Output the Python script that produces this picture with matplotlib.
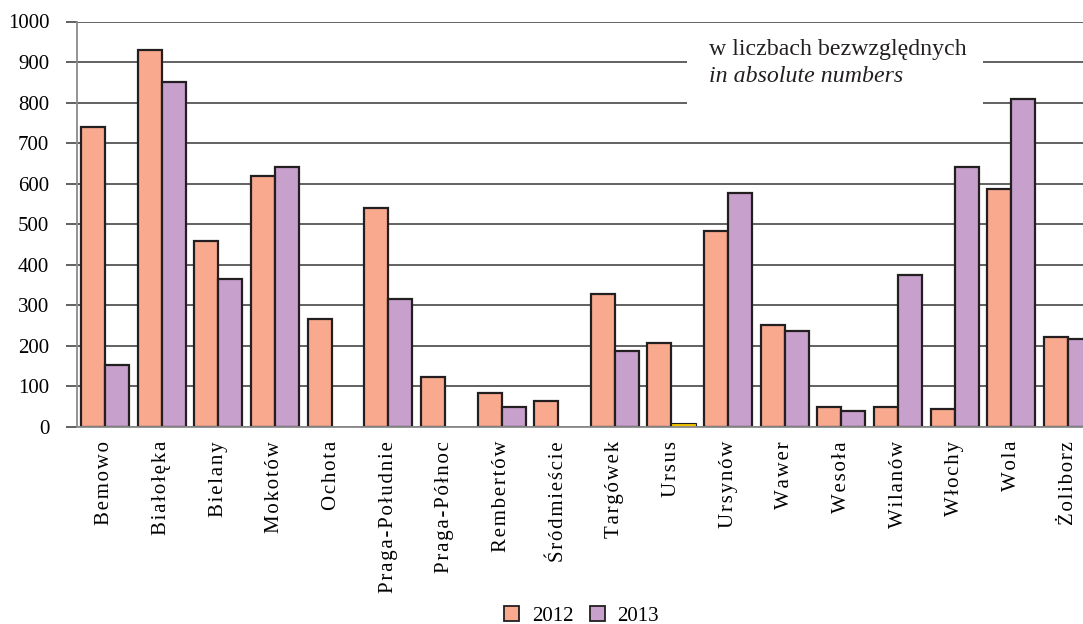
import numpy as np
import matplotlib
matplotlib.use("Agg")
import matplotlib.pyplot as plt
from matplotlib.patches import Rectangle, Patch

plt.rcParams['font.family'] = ['Liberation Serif', 'DejaVu Serif']

# districts of Warsaw
districts = ['Bemowo', 'Białołęka', 'Bielany', 'Mokotów', 'Ochota', 'Praga-Południe',
             'Praga-Północ', 'Rembertów', 'Śródmieście', 'Targówek', 'Ursus', 'Ursynów',
             'Wawer', 'Wesoła', 'Wilanów', 'Włochy', 'Wola', 'Żoliborz']
v2012 = [740, 930, 458, 620, 266, 541, 123, 83, 64, 329, 207, 483, 252, 49, 49, 44, 586, 221]
v2013 = [153, 852, 365, 640, np.nan, 315, np.nan, 49, np.nan, 188, 10, 577, 236, 39, 374, 640, 808, 216]
years = ['2012', '2013']

c2012 = '#F9AA8E'
c2013 = '#C8A0CC'
c_hl = '#F2C200'
edge = '#231F20'

fig = plt.figure(figsize=(10.83, 6.24), dpi=100)
ax = fig.add_axes([77 / 1083, 1 - 427 / 624, 1 - 77 / 1083, (427 - 21.5) / 624])

x = np.arange(len(districts))
w = 0.424
cols2013 = [c_hl if d == 'Ursus' else c2013 for d in districts]
ax.bar(x - w / 2, v2012, w, color=c2012, edgecolor=edge, linewidth=1.6, zorder=2)
bars = ax.bar(x + w / 2, v2013, w, color=cols2013, edgecolor=edge, linewidth=1.6, zorder=2)
bars[districts.index('Ursus')].set_linewidth(0.8)

ax.set_xlim(-0.494, 17.264)
ax.set_ylim(0, 1000)
ax.set_yticks(np.arange(0, 1001, 100))
ax.set_axisbelow(True)
ax.yaxis.grid(True, color='#555555', linewidth=1.3)
ax.tick_params(axis='y', length=8, width=1.3, color='#555555', pad=12, labelsize=15)
ax.tick_params(axis='x', length=0, pad=10)
ax.set_xticks(x)
# slight letter spacing as in the original
spaced = ['\u200a'.join(d) for d in districts]
ax.set_xticklabels(spaced, rotation=90, fontsize=15, va='top', ha='center')

for s in ['top', 'right']:
    ax.spines[s].set_visible(False)
for s in ['left', 'bottom']:
    ax.spines[s].set_color('#8a8a8a')
    ax.spines[s].set_linewidth(1.3)

# white box behind the annotation, hiding the gridlines
ax.add_patch(Rectangle((0.606, 0.777), 0.295, 0.19, transform=ax.transAxes,
                       facecolor='white', edgecolor='none', zorder=1))
ax.text(0.628, 917, 'w liczbach bezwzględnych', transform=ax.get_yaxis_transform(),
        fontsize=17.2, va='baseline', ha='left', color='#231F20', zorder=3)
ax.text(0.628, 851, 'in absolute numbers', transform=ax.get_yaxis_transform(),
        fontsize=17.2, style='italic', va='baseline', ha='left', color='#231F20', zorder=3)

handles = [Patch(facecolor=c2012, edgecolor=edge, linewidth=1.3),
           Patch(facecolor=c2013, edgecolor=edge, linewidth=1.3)]
fig.legend(handles, years, loc='center', bbox_to_anchor=(0.537, 0.013), ncol=2,
           frameon=False, fontsize=15, handlelength=0.72, handleheight=0.72,
           handletextpad=0.6, columnspacing=0.8, borderpad=0)

fig.savefig('out.png', dpi=100)
